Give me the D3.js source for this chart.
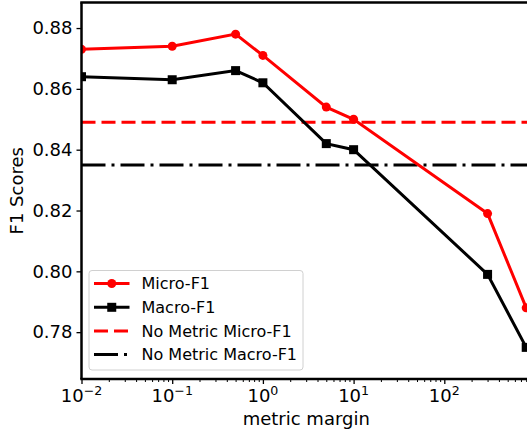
<!DOCTYPE html>
<html>
<head>
<meta charset="utf-8">
<script src="https://cdn.jsdelivr.net/npm/d3@7"></script>
<style>
  body { margin: 0; background: #fff; }
  text { font-family: "DejaVu Sans", sans-serif; fill: #000; }
</style>
</head>
<body>
<div id="chart"></div>
<script>
/**
 * CONSTANTS AND GLOBALS
 * */
const width = 527,
  height = 432,
  margin = { top: 2.5, left: 81.5, bottom: 53 },
  plotRight = 535; // axes run a bit past the picture edge

// DATA
const margins = [0.01, 0.1, 0.5, 1, 5, 10, 300, 800];
const microF1 = [0.873, 0.874, 0.878, 0.871, 0.854, 0.850, 0.819, 0.788];
const macroF1 = [0.864, 0.863, 0.866, 0.862, 0.842, 0.840, 0.799, 0.775];
const noMetricMicro = 0.849;
const noMetricMacro = 0.835;
const yTicks = [0.78, 0.80, 0.82, 0.84, 0.86, 0.88];
const xTicks = [0.01, 0.1, 1, 10, 100];
const xTickExp = ["−2", "−1", "0", "1", "2"];
const legendLabels = ["Micro-F1", "Macro-F1", "No Metric Micro-F1", "No Metric Macro-F1"];

const svg = d3.select("#chart")
  .append("svg")
  .attr("width", width)
  .attr("height", height);

// SCALES
const xScale = d3.scaleLog()
  .domain([0.01, 1000])
  .range([margin.left, plotRight]);

const yScale = d3.scaleLinear()
  .domain([0.7646, 0.8884])
  .range([height - margin.bottom, margin.top]);

const bottom = height - margin.bottom;

svg.append("clipPath").attr("id", "clip")
  .append("rect")
  .attr("x", margin.left).attr("y", margin.top)
  .attr("width", plotRight - margin.left)
  .attr("height", bottom - margin.top);

const plot = svg.append("g").attr("clip-path", "url(#clip)");

// reference lines
plot.append("line")
  .attr("x1", margin.left).attr("x2", plotRight)
  .attr("y1", yScale(noMetricMicro)).attr("y2", yScale(noMetricMicro))
  .attr("stroke", "red").attr("stroke-width", 3)
  .attr("stroke-dasharray", "14,6");

plot.append("line")
  .attr("x1", margin.left).attr("x2", plotRight)
  .attr("y1", yScale(noMetricMacro)).attr("y2", yScale(noMetricMacro))
  .attr("stroke", "black").attr("stroke-width", 3)
  .attr("stroke-dasharray", "24,6,3,6");

const line = d3.line()
  .x(d => xScale(d[0]))
  .y(d => yScale(d[1]));

const microPts = margins.map((m, i) => [m, microF1[i]]);
const macroPts = margins.map((m, i) => [m, macroF1[i]]);

plot.append("path")
  .datum(microPts)
  .attr("d", line)
  .attr("fill", "none").attr("stroke", "red").attr("stroke-width", 3);

plot.selectAll(".dot")
  .data(microPts)
  .join("circle")
  .attr("class", "dot")
  .attr("cx", d => xScale(d[0]))
  .attr("cy", d => yScale(d[1]))
  .attr("r", 4.5)
  .attr("fill", "red");

plot.append("path")
  .datum(macroPts)
  .attr("d", line)
  .attr("fill", "none").attr("stroke", "black").attr("stroke-width", 3);

plot.selectAll(".sq")
  .data(macroPts)
  .join("rect")
  .attr("class", "sq")
  .attr("x", d => xScale(d[0]) - 4.5)
  .attr("y", d => yScale(d[1]) - 4.5)
  .attr("width", 9).attr("height", 9)
  .attr("fill", "black");

// AXES
const yAxis = svg.append("g")
  .attr("transform", `translate(${margin.left},0)`)
  .call(d3.axisLeft(yScale).tickValues(yTicks).tickFormat(d3.format(".2f")).tickSize(5).tickPadding(4));
yAxis.select(".domain").remove();
yAxis.selectAll("line").attr("stroke-width", 1.3);
yAxis.selectAll("text").attr("font-size", 18).attr("font-family", "DejaVu Sans").attr("fill", "#000");

// minor ticks on log axis
const minorTicks = [];
[0.01, 0.1, 1, 10, 100].forEach(t => {
  for (let k = 2; k < 10; k++) minorTicks.push(t * k);
});
svg.append("g")
  .attr("transform", `translate(0,${bottom})`)
  .call(d3.axisBottom(xScale).tickValues(minorTicks).tickSize(3).tickFormat(""))
  .call(g => g.select(".domain").remove())
  .selectAll("line").attr("stroke-width", 1);

const xAxis = svg.append("g")
  .attr("transform", `translate(0,${bottom})`)
  .call(d3.axisBottom(xScale).tickValues(xTicks).tickSize(5).tickFormat(""));
xAxis.select(".domain").remove();
xAxis.selectAll("line").attr("stroke-width", 1.3);

const xLabels = svg.append("g").selectAll("text")
  .data(xTicks)
  .join("text")
  .attr("x", d => xScale(d))
  .attr("y", bottom + 23)
  .attr("text-anchor", "middle")
  .attr("font-size", 18);
xLabels.append("tspan").text("10");
xLabels.append("tspan")
  .attr("font-size", 12.6)
  .attr("dy", -7.5)
  .text((d, i) => xTickExp[i]);

// spines
svg.append("line")
  .attr("x1", margin.left).attr("x2", margin.left)
  .attr("y1", margin.top).attr("y2", bottom)
  .attr("stroke", "black").attr("stroke-width", 2.5);
svg.append("line")
  .attr("x1", margin.left - 1.25).attr("x2", plotRight)
  .attr("y1", margin.top).attr("y2", margin.top)
  .attr("stroke", "black").attr("stroke-width", 2.5);
svg.append("line")
  .attr("x1", margin.left - 1.25).attr("x2", plotRight)
  .attr("y1", bottom).attr("y2", bottom)
  .attr("stroke", "black").attr("stroke-width", 2.5);

// axis labels
svg.append("text")
  .attr("x", (margin.left + plotRight) / 2 - 2)
  .attr("y", 425)
  .attr("text-anchor", "middle")
  .attr("font-size", 18)
  .text("metric margin");

svg.append("text")
  .attr("transform", `translate(23,${(margin.top + bottom) / 2}) rotate(-90)`)
  .attr("text-anchor", "middle")
  .attr("font-size", 18)
  .text("F1 Scores");

// LEGEND
const legend = svg.append("g");
legend.append("rect")
  .attr("x", 89).attr("y", 270.5)
  .attr("width", 214).attr("height", 99.5)
  .attr("rx", 3)
  .attr("fill", "white").attr("fill-opacity", 0.8)
  .attr("stroke", "#d0d0d0").attr("stroke-width", 1);

const rowY = [283.5, 307.3, 331, 354.5];
const hx0 = 94, hx1 = 129.5, hxm = (hx0 + hx1) / 2;
const handleStyles = [
  { color: "red", dash: null },
  { color: "black", dash: null },
  { color: "red", dash: "14,6" },
  { color: "black", dash: "24,6,3,6" }
];

handleStyles.forEach((s, i) => {
  legend.append("line")
    .attr("x1", hx0).attr("x2", hx1)
    .attr("y1", rowY[i]).attr("y2", rowY[i])
    .attr("stroke", s.color).attr("stroke-width", 3)
    .attr("stroke-dasharray", s.dash);
  legend.append("text")
    .attr("x", 141.5)
    .attr("y", rowY[i] + 5.8)
    .attr("font-size", 16)
    .text(legendLabels[i]);
});
legend.append("circle")
  .attr("cx", hxm).attr("cy", rowY[0]).attr("r", 4.5).attr("fill", "red");
legend.append("rect")
  .attr("x", hxm - 4.5).attr("y", rowY[1] - 4.5)
  .attr("width", 9).attr("height", 9).attr("fill", "black");
</script>
</body>
</html>
